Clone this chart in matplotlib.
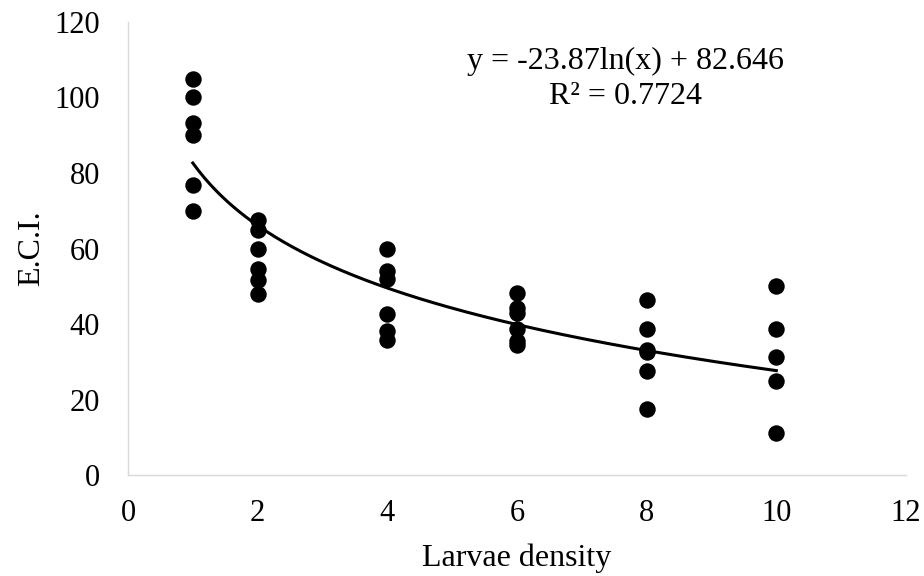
import matplotlib
matplotlib.use("Agg")
import matplotlib.pyplot as plt
import numpy as np

plt.rcParams['font.family'] = ['Liberation Serif', 'DejaVu Serif']

# Observed E.C.I. values per larvae density
density = [1, 2, 4, 6, 8, 10]
eci = [
    [105, 100, 93.3, 90, 76.7, 70],
    [67.5, 65, 60, 54.5, 51.8, 48],
    [60, 54, 52, 42.7, 38.2, 35.8],
    [48.3, 44.2, 43, 38.8, 35.5, 34.5],
    [46.5, 38.6, 33.2, 32.5, 27.7, 17.5],
    [50, 38.8, 31.2, 25, 11.1],
]

# Logarithmic trendline
coef_a = -23.87
coef_b = 82.646
r2 = 0.7724

fig = plt.figure(figsize=(9.24, 5.76), dpi=100)
ax = fig.add_axes([0.1385, 0.175, 0.842, 0.787])

for d, vals in zip(density, eci):
    ax.scatter([d] * len(vals), vals, s=140, color='black', zorder=3, linewidths=0)

xs = np.linspace(min(density), max(density), 200)
ax.plot(xs, coef_a * np.log(xs) + coef_b, color='black', linewidth=2.2, zorder=2)

ax.text(7.67, 109.5, f"y = {coef_a}ln(x) + {coef_b}", ha='center', va='center', fontsize=23)
ax.text(7.67, 100.3, f"R² = {r2}", ha='center', va='center', fontsize=23)

ax.set_xlim(0, 12)
ax.set_ylim(0, 120)
ax.set_xticks(range(0, 13, 2))
ax.set_yticks(range(0, 121, 20))
ax.tick_params(length=0, labelsize=22)
ax.tick_params(axis='x', pad=17)
ax.tick_params(axis='y', pad=20)

for side in ['top', 'right']:
    ax.spines[side].set_visible(False)
for side in ['left', 'bottom']:
    ax.spines[side].set_color('#d9d9d9')
    ax.spines[side].set_linewidth(1)

ax.set_xlabel('Larvae density', fontsize=23, labelpad=11)
ax.set_ylabel('E.C.I.', fontsize=23, labelpad=6)

fig.savefig('out.png', dpi=100)
